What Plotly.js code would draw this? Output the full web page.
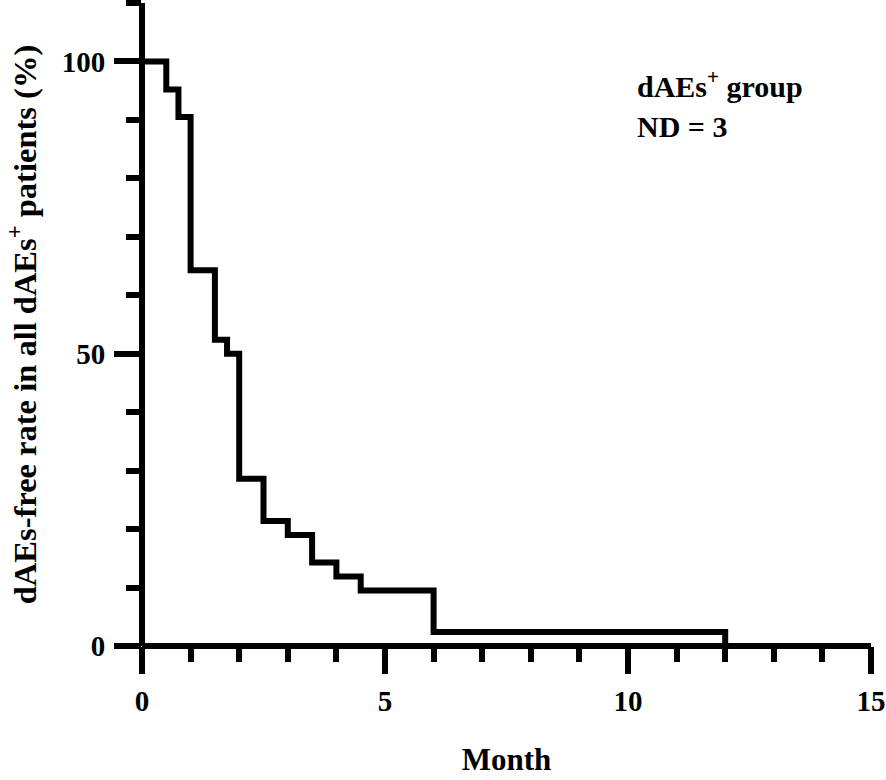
<!DOCTYPE html>
<html>
<head>
<meta charset="utf-8">
<script src="https://cdn.plot.ly/plotly-3.0.1.min.js"></script>
<style>html,body{margin:0;padding:0;background:#fff;}#chart{width:886px;height:780px;}</style>
</head>
<body>
<div id="chart"></div>
<script>
// Kaplan-Meier step data (month, dAEs-free rate %)
const months = [0, 0.5, 0.75, 1, 1.5, 1.75, 2, 2.5, 3, 3.5, 4, 4.5, 6, 12];
const freeRate = [100, 95.2, 90.5, 64.3, 52.4, 50, 28.6, 21.4, 19.0, 14.3, 11.9, 9.5, 2.4, 0];
const xTickVals = [0, 5, 10, 15];
const yTickVals = [0, 50, 100];
const groupLabel = 'dAEs<sup>+</sup> group';
const ndLabel = 'ND = 3';

const FONT = 'Liberation Serif, Times New Roman, serif';

const trace = {
  x: months,
  y: freeRate,
  type: 'scatter',
  mode: 'lines',
  line: {shape: 'hv', color: '#000', width: 6},
  hoverinfo: 'skip',
  cliponaxis: false
};

const layout = {
  width: 886,
  height: 780,
  margin: {l: 142, r: 15, t: 3, b: 134},
  paper_bgcolor: '#fff',
  plot_bgcolor: '#fff',
  showlegend: false,
  font: {family: FONT, color: '#000', weight: 'bold'},
  xaxis: {
    range: [0, 15],
    showgrid: false,
    showline: false,
    zeroline: true,
    zerolinecolor: '#000',
    zerolinewidth: 6,
    tickmode: 'array',
    tickvals: xTickVals,
    ticktext: xTickVals.map(String),
    ticks: 'outside',
    ticklen: 27,
    tickwidth: 6,
    tickcolor: '#000',
    ticklabelstandoff: 2,
    tickfont: {family: FONT, size: 29, color: '#000', weight: 'bold'},
    minor: {dtick: 1, tick0: 0, ticks: 'outside', ticklen: 15, tickwidth: 6, tickcolor: '#000', showgrid: false},
    title: {text: 'Month', font: {family: FONT, size: 31, color: '#000', weight: 'bold'}, standoff: 32},
    automargin: false,
    fixedrange: true
  },
  yaxis: {
    range: [0, 110],
    showgrid: false,
    showline: false,
    zeroline: true,
    zerolinecolor: '#000',
    zerolinewidth: 6,
    tickmode: 'array',
    tickvals: yTickVals,
    ticktext: yTickVals.map(String),
    ticks: 'outside',
    ticklen: 27,
    tickwidth: 6,
    tickcolor: '#000',
    ticklabelstandoff: 3,
    tickfont: {family: FONT, size: 29, color: '#000', weight: 'bold'},
    minor: {dtick: 10, tick0: 0, ticks: 'outside', ticklen: 15, tickwidth: 6, tickcolor: '#000', showgrid: false},
    title: {text: 'dAEs-free rate in all dAEs<sup>+</sup> patients (%)', font: {family: FONT, size: 32.5, color: '#000', weight: 'bold'}, standoff: 15},
    automargin: false,
    fixedrange: true
  },
  annotations: [
    {xref: 'x', yref: 'y', x: 10.15, y: 96.2, xanchor: 'left', yanchor: 'middle', text: groupLabel, showarrow: false,
     font: {family: FONT, size: 30, color: '#000', weight: 'bold'}},
    {xref: 'x', yref: 'y', x: 10.15, y: 88.9, xanchor: 'left', yanchor: 'middle', text: ndLabel, showarrow: false,
     font: {family: FONT, size: 30, color: '#000', weight: 'bold'}}
  ]
};

Plotly.newPlot('chart', [trace], layout, {displayModeBar: false, staticPlot: true});
</script>
</body>
</html>
